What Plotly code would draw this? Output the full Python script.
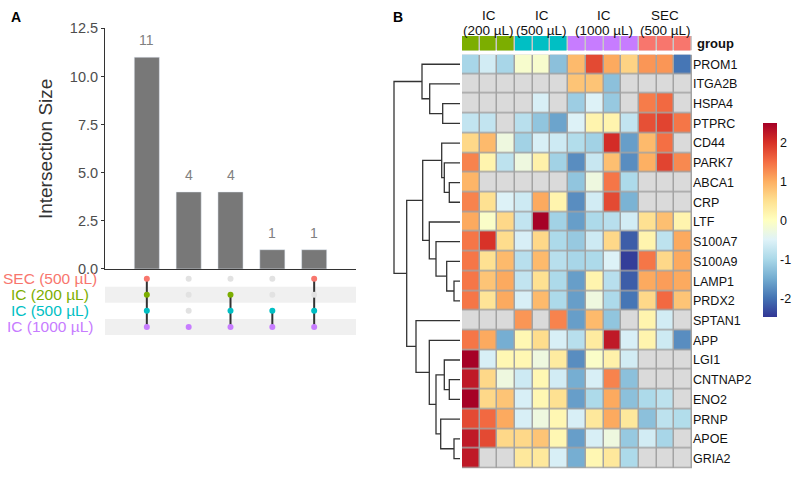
import plotly.graph_objects as go

W, H = 794, 478

# ---------------- Panel A data (UpSet) ----------------
set_names = ["SEC (500 µL)", "IC (200 µL)", "IC (500 µL)", "IC (1000 µL)"]
set_colors = ["#F8766D", "#7CAE00", "#00BFC4", "#C77CFF"]
intersection_sizes = [11, 4, 4, 1, 1]
# membership per intersection, order = set_names
intersection_members = [
    [1, 1, 1, 1],
    [0, 0, 0, 1],
    [0, 1, 1, 1],
    [0, 0, 1, 1],
    [1, 0, 1, 1],
]
y_ticks = [0.0, 2.5, 5.0, 7.5, 10.0, 12.5]

# ---------------- Panel B data (heatmap) ----------------
genes = ["PROM1", "ITGA2B", "HSPA4", "PTPRC", "CD44", "PARK7", "ABCA1", "CRP",
         "LTF", "S100A7", "S100A9", "LAMP1", "PRDX2", "SPTAN1", "APP", "LGI1",
         "CNTNAP2", "ENO2", "PRNP", "APOE", "GRIA2"]
group_order = ["IC (200 µL)", "IC (500 µL)", "IC (1000 µL)", "SEC (500 µL)"]
group_head1 = ["IC", "IC", "IC", "SEC"]
group_head2 = ["(200 µL)", "(500 µL)", "(1000 µL)", "(500 µL)"]
group_colors = ["#7CAE00", "#00BFC4", "#C77CFF", "#F8766D"]
sample_groups = [0, 0, 0, 1, 1, 1, 2, 2, 2, 2, 3, 3, 3]
N = None
values = [
    [-1.0, -0.6, -1.0, -0.1, -0.1, -1.25, 0.9, 1.8, 1.05, 0.65, 1.2, 1.2, -1.95],
    [N, N, N, N, N, N, 0.8, 0.8, -1.25, N, N, N, N],
    [N, N, N, N, -0.55, N, -1.1, -0.5, -1.15, N, 1.4, 1.55, N],
    [-0.75, -0.75, N, -0.85, -1.2, -1.55, -0.5, 0.2, 0.2, -0.75, 1.75, 1.85, 1.45],
    [0.6, 0.9, -0.25, -1.05, -0.55, -0.65, -0.9, -1.05, 2.05, -1.6, 0.9, 1.5, N],
    [1.35, 0.2, -0.8, -0.25, 0.25, -1.05, -1.75, -0.7, 0.85, -1.75, 1.0, 1.85, 1.3],
    [0.95, N, N, N, N, N, -1.2, -0.25, 1.45, -0.95, N, N, N],
    [1.35, 0.5, -0.5, -0.65, 1.05, 0.2, -1.75, -0.6, 1.8, -1.4, N, N, N],
    [1.05, -0.05, 0.6, -0.75, 2.5, -1.05, -1.6, -0.95, -0.85, -0.6, 0.5, 0.85, 0.2],
    [1.45, 2.0, 0.55, -0.55, 0.6, -0.95, -1.15, -0.65, 0.6, -2.15, 0.2, -0.8, 1.05],
    [1.45, 0.5, 0.9, -0.85, 0.9, -0.85, -1.0, -0.95, -0.5, -2.4, 1.45, 0.6, 1.05],
    [1.45, 0.8, 1.05, -0.75, 0.5, -0.95, -1.6, 0.2, -0.85, -2.15, 1.05, 1.15, 1.05],
    [1.45, 0.45, 1.05, -0.55, 0.9, -0.95, -1.6, -0.25, -0.95, -1.95, 0.6, 1.55, 0.8],
    [N, N, N, 1.2, N, 1.35, -1.6, 0.9, -1.2, N, 0.2, -0.6, N],
    [1.45, 1.05, -1.45, 0.15, 0.55, -0.55, -0.85, 0.35, 2.25, -0.55, 0.2, -0.65, -1.75],
    [2.5, -0.55, 0.15, 0.15, -0.25, 0.35, -1.75, -0.05, 0.25, -0.6, N, N, N],
    [2.25, 0.6, -0.25, -0.65, 0.15, -0.6, -1.45, -0.55, 1.35, -1.25, N, N, N],
    [2.5, 0.6, 0.8, -0.55, 0.15, 0.5, -1.6, -0.95, 1.05, -1.25, -0.95, -0.8, N],
    [1.8, 1.55, 1.05, -0.55, -0.25, 0.15, -0.55, 0.4, 1.05, 0.4, -1.25, -0.8, -0.9],
    [2.25, 1.8, 0.6, 0.6, 0.8, 0.15, -1.6, -0.55, -0.25, -1.15, -0.6, -1.0, N],
    [2.25, N, N, 0.4, 0.4, -0.55, -1.45, 0.15, 0.4, -0.95, N, N, N],
]
z_min, z_max = -2.46, 2.51
cbar_ticks = [2, 1, 0, -1, -2]

# dendrogram merges: (left, right, height)
merge_left = ["HSPA4", "ITGA2B", "PROM1", "ABCA1", "PARK7", "CD44", "LAMP1", "S100A9",
              "S100A7", "LTF", "m6", "CNTNAP2", "LGI1", "APOE", "PRNP", "m13", "APP",
              "SPTAN1", "m11", "m3"]
merge_right = ["PTPRC", "m1", "m2", "CRP", "m4", "m5", "PRDX2", "m7", "m8", "m9", "m10",
               "ENO2", "m12", "GRIA2", "m14", "m15", "m16", "m17", "m18", "m19"]
merge_height = [17.3, 30.3, 38, 10.7, 15.7, 18.3, 6, 13.3, 24, 30.7, 37.3, 10.7, 15.7,
                6, 19.3, 24, 30.7, 44, 53.3, 66]

# ---------------- helpers ----------------
FONT = "Liberation Sans, Arial, sans-serif"


def xd(a, b):
    return [a / W, b / W]


def yd(top, bottom):
    return [1 - bottom / H, 1 - top / H]


fig = go.Figure()

# ---- UpSet bars
xs = list(range(1, len(intersection_sizes) + 1))
fig.add_trace(go.Bar(x=xs, y=intersection_sizes, width=0.6, marker_color="#787878",
                     xaxis="x", yaxis="y", showlegend=False, hoverinfo="skip"))

annotations = []
for x, v in zip(xs, intersection_sizes):
    annotations.append(dict(x=x, y=v, xref="x", yref="y", text=str(v), showarrow=False,
                            xanchor="center", yanchor="bottom", yshift=7,
                            font=dict(size=14, color="#808080")))

# ---- UpSet matrix
shapes = []
for k in range(len(set_names)):
    if k % 2 == 1:
        shapes.append(dict(type="rect", xref="x2", yref="y2", x0=0, x1=6, y0=k - 0.5,
                           y1=k + 0.5, fillcolor="#F0F0F0", line=dict(width=0), layer="below"))

for i, mem in enumerate(intersection_members):
    act = [k for k, m in enumerate(mem) if m]
    if len(act) > 1:
        fig.add_trace(go.Scatter(x=[xs[i], xs[i]], y=[min(act), max(act)], mode="lines",
                                 line=dict(color="#333333", width=2), xaxis="x2", yaxis="y2",
                                 showlegend=False, hoverinfo="skip"))
gx, gy, cx, cy, cc = [], [], [], [], []
for i, mem in enumerate(intersection_members):
    for k, m in enumerate(mem):
        if m:
            cx.append(xs[i]); cy.append(k); cc.append(set_colors[k])
        else:
            gx.append(xs[i]); gy.append(k)
fig.add_trace(go.Scatter(x=gx, y=gy, mode="markers", marker=dict(size=6, color="#E2E2E2"),
                         xaxis="x2", yaxis="y2", showlegend=False, hoverinfo="skip"))
fig.add_trace(go.Scatter(x=cx, y=cy, mode="markers", marker=dict(size=6, color=cc),
                         xaxis="x2", yaxis="y2", showlegend=False, hoverinfo="skip"))

for k, (nm, col) in enumerate(zip(set_names, set_colors)):
    annotations.append(dict(x=50 / W, y=k, xref="paper", yref="y2", text=nm, showarrow=False,
                            xanchor="center", yanchor="middle", font=dict(size=15.5, color=col)))

annotations.append(dict(x=45 / W, y=1 - 146 / H, xref="paper", yref="paper",
                        text="Intersection Size", textangle=-90, showarrow=False,
                        xanchor="center", yanchor="middle",
                        font=dict(size=19, color="#333333")))

# ---- Heatmap
rdylbu_r = ['#313695', '#4575B4', '#74ADD1', '#ABD9E9', '#E0F3F8', '#FFFFBF',
            '#FEE090', '#FDAE61', '#F46D43', '#D73027', '#A50026']
cs = [[i / (len(rdylbu_r) - 1), c] for i, c in enumerate(rdylbu_r)]
ncol = len(sample_groups)
nrow = len(genes)

shapes.append(dict(type="rect", xref="x3", yref="y3", x0=-0.5, x1=ncol - 0.5, y0=-0.5,
                   y1=nrow - 0.5, fillcolor="#A3A3A3", line=dict(width=0), layer="below"))
shapes.append(dict(type="rect", xref="x3", yref="y4", x0=-0.5, x1=ncol - 0.5, y0=-0.5,
                   y1=0.5, fillcolor="#C8C8C8", line=dict(width=0), layer="below"))

fig.add_trace(go.Heatmap(
    z=values, x=list(range(ncol)), y=list(range(nrow)), colorscale=cs, zmin=z_min, zmax=z_max,
    xgap=1.5, ygap=1.5, xaxis="x3", yaxis="y3", hoverinfo="skip",
    colorbar=dict(x=763 / W, xanchor="left", y=1 - 119 / H, yanchor="top",
                  len=194, lenmode="pixels", thickness=14, thicknessmode="pixels",
                  xpad=0, ypad=0, outlinewidth=0, ticks="",
                  tickvals=cbar_ticks, ticktext=[str(t) for t in cbar_ticks],
                  tickfont=dict(size=12.5, color="#111111", family=FONT))))
na_mask = [[1 if v is None else None for v in row] for row in values]
fig.add_trace(go.Heatmap(
    z=na_mask, x=list(range(ncol)), y=list(range(nrow)),
    colorscale=[[0, "#DADADA"], [1, "#DADADA"]], zmin=0, zmax=1, showscale=False,
    xgap=1.5, ygap=1.5, xaxis="x3", yaxis="y3", hoverinfo="skip"))

ng = len(group_colors)
gcs = []
for i, c in enumerate(group_colors):
    gcs += [[i / ng, c], [(i + 1) / ng, c]]
fig.add_trace(go.Heatmap(
    z=[sample_groups], x=list(range(ncol)), y=[0], colorscale=gcs, zmin=-0.5, zmax=ng - 0.5,
    showscale=False, xgap=1.5, ygap=0, xaxis="x3", yaxis="y4", hoverinfo="skip"))

for g in range(ng):
    cols = [i for i, s in enumerate(sample_groups) if s == g]
    cxm = sum(cols) / len(cols)
    annotations.append(dict(x=cxm, y=1 - 8 / H, xref="x3", yref="paper", text=group_head1[g],
                            showarrow=False, xanchor="center", yanchor="middle",
                            font=dict(size=13.5, color="#111111")))
    annotations.append(dict(x=cxm, y=1 - 23 / H, xref="x3", yref="paper", text=group_head2[g],
                            showarrow=False, xanchor="center", yanchor="middle",
                            font=dict(size=13.5, color="#111111")))
annotations.append(dict(x=695 / W, y=1 - 37 / H, xref="paper", yref="paper", text="<b>group</b>",
                        showarrow=False, xanchor="left", yanchor="middle",
                        font=dict(size=13, color="#111111")))

# ---- Dendrogram
pos = {g: i for i, g in enumerate(genes)}
hgt = {g: 0.0 for g in genes}
dx, dy = [], []
for j, (a, b, h) in enumerate(zip(merge_left, merge_right, merge_height)):
    pa, pb = pos[a], pos[b]
    dx += [hgt[a], h, h, hgt[b], None]
    dy += [pa, pa, pb, pb, None]
    name = "m%d" % (j + 1)
    pos[name] = (pa + pb) / 2
    hgt[name] = h
fig.add_trace(go.Scatter(x=dx, y=dy, mode="lines", line=dict(color="#333333", width=1.3),
                         xaxis="x4", yaxis="y3", showlegend=False, hoverinfo="skip"))

# ---- Panel letters
annotations.append(dict(x=16 / W, y=1 - 9 / H, xref="paper", yref="paper", text="<b>A</b>",
                        showarrow=False, xanchor="center", yanchor="middle",
                        font=dict(size=14, color="#000000")))
annotations.append(dict(x=398 / W, y=1 - 9 / H, xref="paper", yref="paper", text="<b>B</b>",
                        showarrow=False, xanchor="center", yanchor="middle",
                        font=dict(size=14, color="#000000")))

hidden = dict(visible=False, showgrid=False, zeroline=False)
fig.update_layout(
    width=W, height=H, margin=dict(l=0, r=0, t=0, b=0),
    paper_bgcolor="white", plot_bgcolor="white",
    font=dict(family=FONT), showlegend=False,
    xaxis=dict(domain=xd(105, 356), range=[0, 6], anchor="y", showline=True,
               linecolor="#333333", linewidth=1, showticklabels=False, ticks="",
               showgrid=False, zeroline=False),
    yaxis=dict(domain=yd(21, 270), range=[0, 12.5], anchor="x", showline=True,
               linecolor="#333333", linewidth=1, ticks="outside", ticklen=3,
               tickcolor="#333333", tickvals=y_ticks,
               ticktext=["%.1f" % t for t in y_ticks],
               tickfont=dict(size=14.5, color="#4D4D4D"), showgrid=False, zeroline=False),
    xaxis2=dict(domain=xd(105, 356), range=[0, 6], anchor="y2", **hidden),
    yaxis2=dict(domain=yd(271.7, 338.3), range=[3.5, -0.5], anchor="x2", **hidden),
    xaxis3=dict(domain=xd(462, 692), range=[-0.5, ncol - 0.5], anchor="y3", **hidden),
    yaxis3=dict(domain=yd(48, 476.4), range=[nrow - 0.5, -0.5], anchor="x3", side="right",
                tickvals=list(range(nrow)), ticktext=genes, ticks="", showline=False,
                showgrid=False, zeroline=False,
                tickfont=dict(size=12.5, color="#111111")),
    yaxis4=dict(domain=yd(29, 44), range=[0.5, -0.5], anchor="x3", **hidden),
    xaxis4=dict(domain=xd(380, 460), range=[80, 0], anchor="y3", **hidden),
    shapes=shapes, annotations=annotations,
)

fig.write_html("out.html")
